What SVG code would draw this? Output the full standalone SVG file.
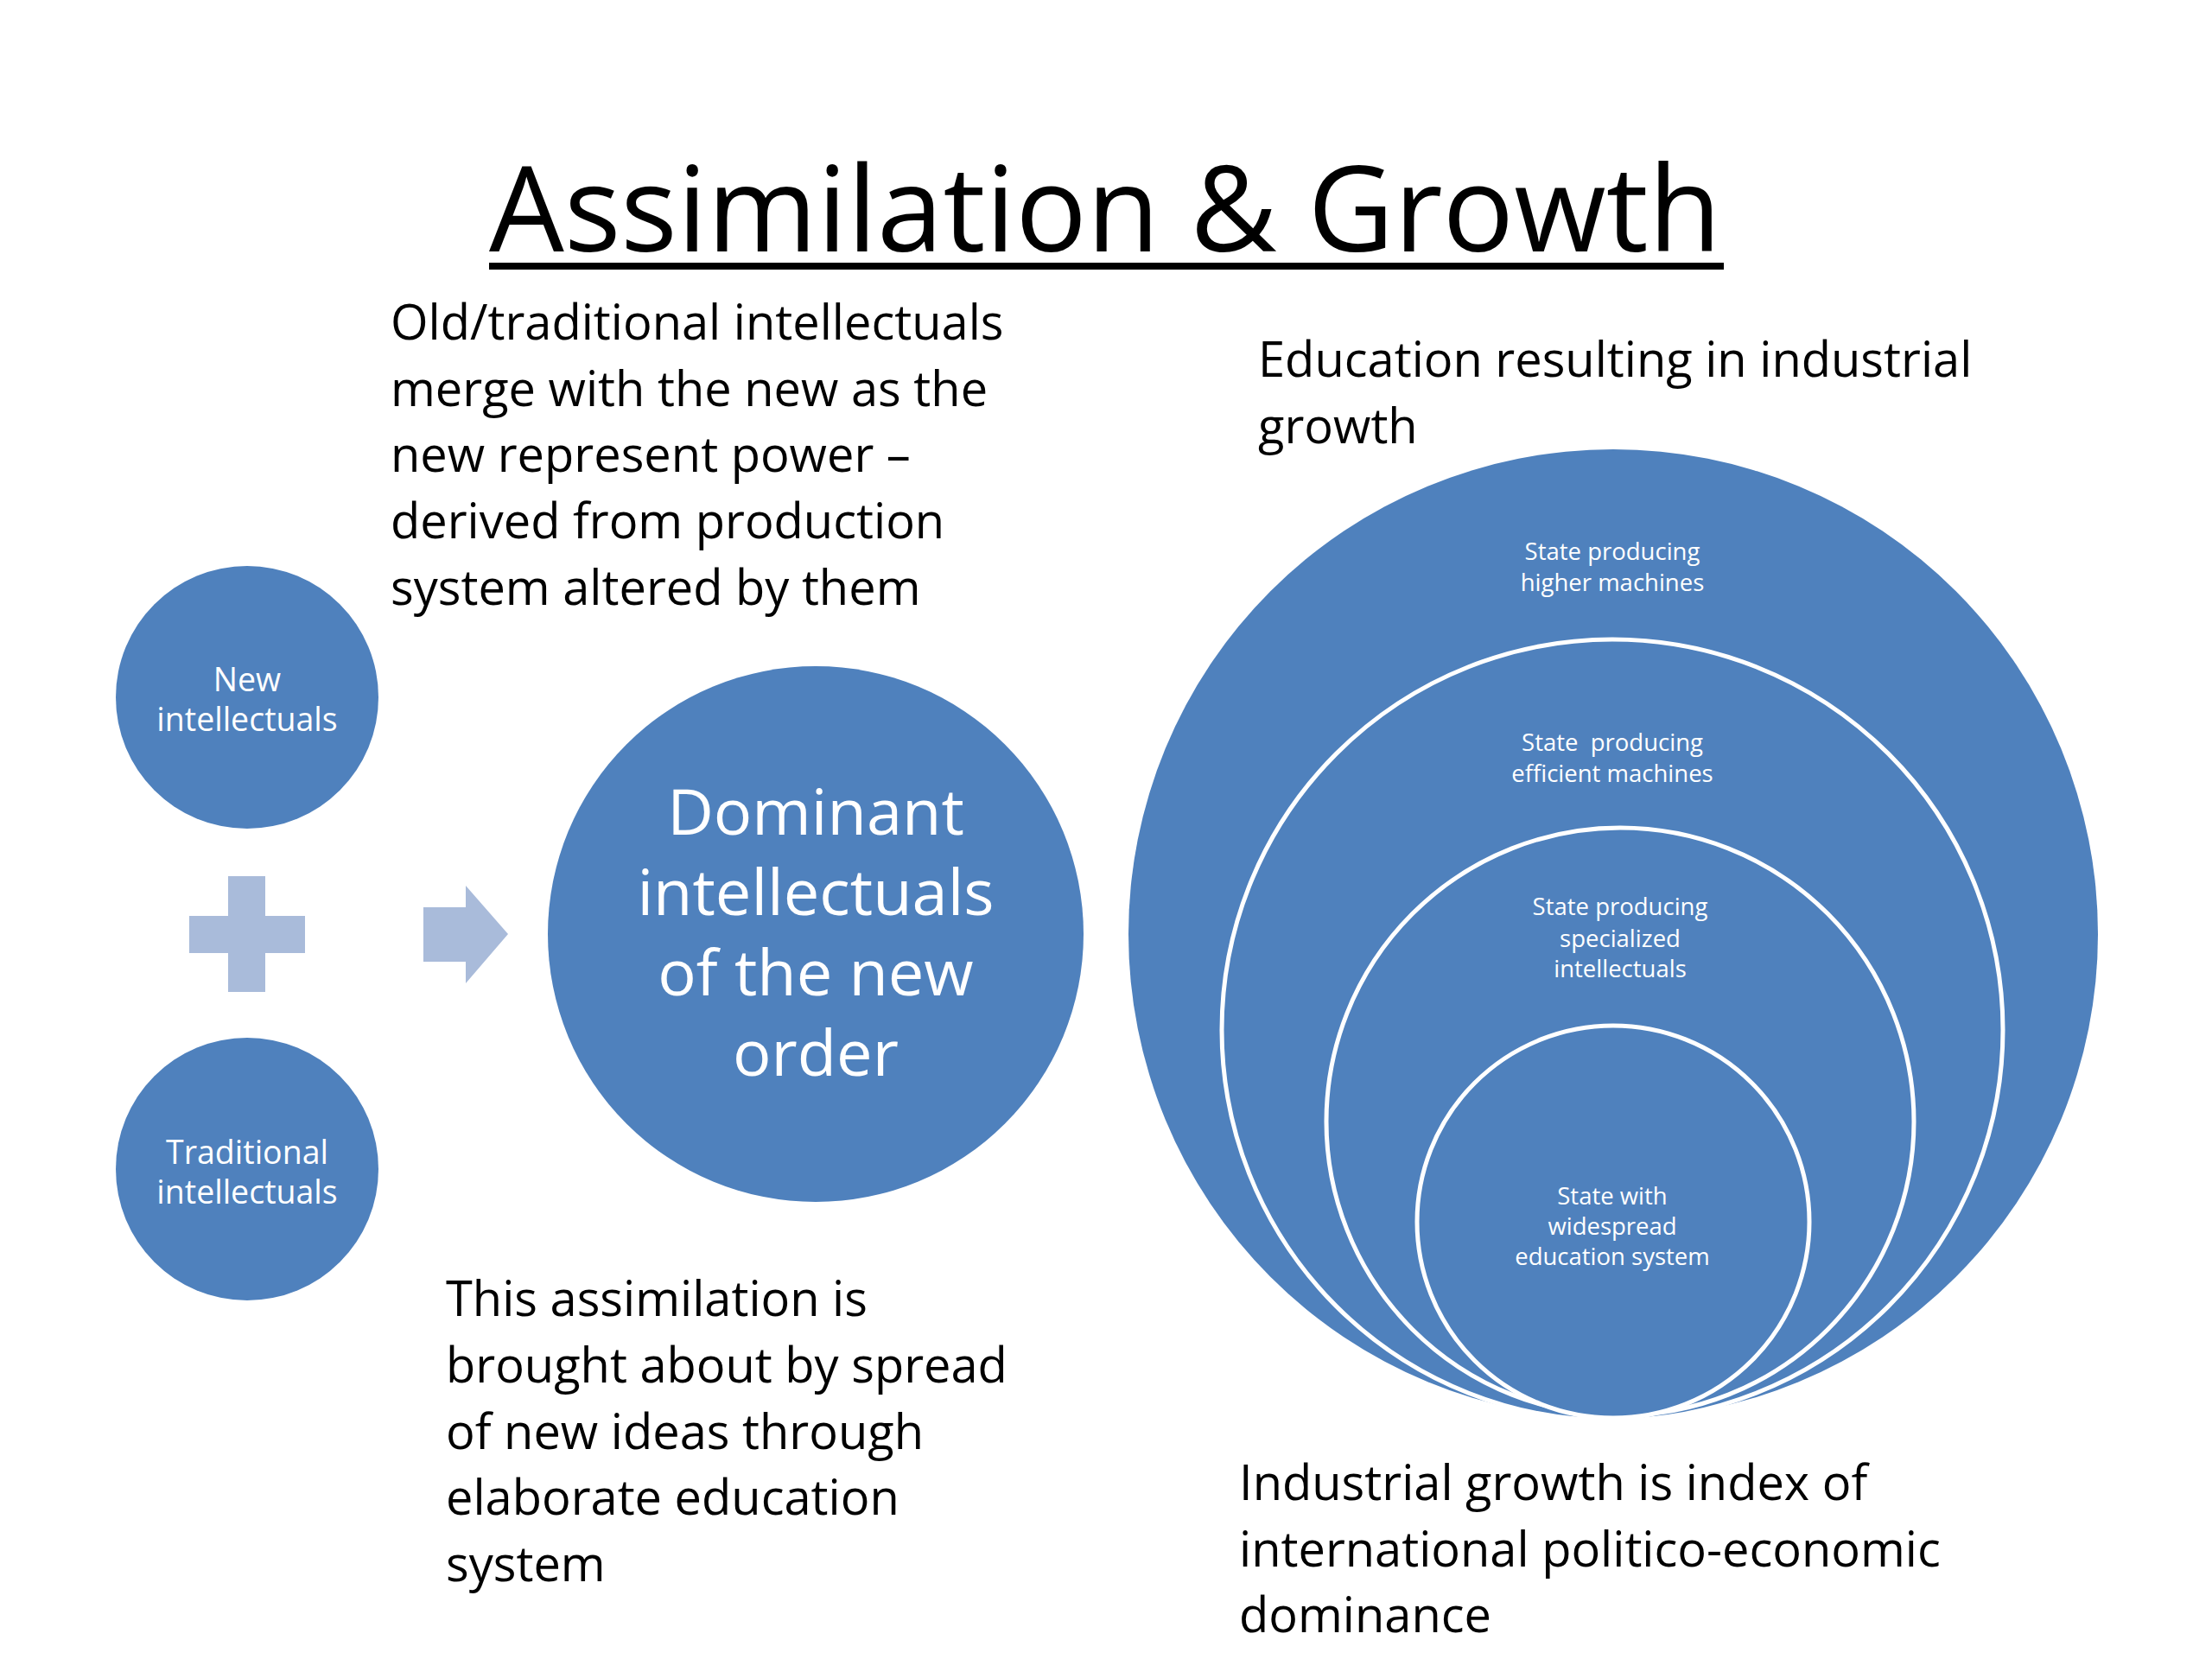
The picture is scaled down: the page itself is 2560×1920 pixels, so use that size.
<svg xmlns="http://www.w3.org/2000/svg" width="2560" height="1920" viewBox="0 0 2560 1920">
<style>
.body{font-family:"Open Sans","Noto Sans",sans-serif;font-size:56px;fill:#000}
.node{fill:#4f81bd}
.ring{fill:#4f81bd;stroke:#fff;stroke-width:5}
.wt{font-family:"Open Sans","Noto Sans",sans-serif;fill:#fff;text-anchor:middle}
.sm{font-size:37.5px}
.big{font-size:74px}
.tiny{font-size:27.5px}
.conn{fill:#a9bbda}
</style>
<rect width="2560" height="1920" fill="#fff"/>
<g id="title">
<text x="566" y="291" font-family="Open Sans, Noto Sans, sans-serif" font-size="137" textLength="1426" lengthAdjust="spacingAndGlyphs" fill="#000">Assimilation &amp; Growth</text>
<rect x="566" y="304" width="1429" height="8" fill="#000"/>
</g>
<g id="text-merge" class="body">
<text class="body" x="452" y="393">Old/traditional intellectuals</text>
<text class="body" x="452" y="470">merge with the new as the</text>
<text class="body" x="452" y="546">new represent power –</text>
<text class="body" x="452" y="623">derived from production</text>
<text class="body" x="452" y="700">system altered by them</text>
</g>
<g id="text-education">
<text class="body" x="1456" y="436">Education resulting in industrial</text>
<text class="body" x="1456" y="513">growth</text>
</g>
<g id="text-assimilation">
<text class="body" x="516" y="1523">This assimilation is</text>
<text class="body" x="516" y="1600">brought about by spread</text>
<text class="body" x="516" y="1677">of new ideas through</text>
<text class="body" x="516" y="1753">elaborate education</text>
<text class="body" x="516" y="1830">system</text>
</g>
<g id="text-industrial">
<text class="body" x="1434" y="1736">Industrial growth is index of</text>
<text class="body" x="1434" y="1813">international politico-economic</text>
<text class="body" x="1434" y="1889">dominance</text>
</g>
<g id="connectors">
<path class="conn" d="M264,1014 H307 V1060 H353 V1103 H307 V1148 H264 V1103 H219 V1060 H264 Z"/>
<path class="conn" d="M490,1050 H539 V1025 L588,1081 L539,1138 V1113 H490 Z"/>
</g>
<g id="node-new">
<circle class="node" cx="286" cy="807" r="152"/>
<text class="wt sm" x="286" y="800">New</text>
<text class="wt sm" x="286" y="846">intellectuals</text>
</g>
<g id="node-traditional">
<circle class="node" cx="286" cy="1353" r="152"/>
<text class="wt sm" x="286" y="1347">Traditional</text>
<text class="wt sm" x="286" y="1393">intellectuals</text>
</g>
<g id="node-dominant">
<circle class="node" cx="944" cy="1081" r="310"/>
<text class="wt big" x="944" y="966">Dominant</text>
<text class="wt big" x="944" y="1059">intellectuals</text>
<text class="wt big" x="944" y="1152">of the new</text>
<text class="wt big" x="944" y="1245">order</text>
</g>
<g id="node-higher">
<circle class="node" cx="1867" cy="1081" r="561"/>
<text class="wt tiny" x="1866" y="648">State producing</text>
<text class="wt tiny" x="1866" y="684">higher machines</text>
</g>
<g id="node-efficient">
<circle class="ring" cx="1866" cy="1192" r="452"/>
<text class="wt tiny" x="1866" y="869" xml:space="preserve">State  producing</text>
<text class="wt tiny" x="1866" y="905">efficient machines</text>
</g>
<g id="node-specialized">
<circle class="ring" cx="1875" cy="1298" r="340"/>
<text class="wt tiny" x="1875" y="1059">State producing</text>
<text class="wt tiny" x="1875" y="1096">specialized</text>
<text class="wt tiny" x="1875" y="1131">intellectuals</text>
</g>
<g id="node-education">
<circle class="ring" cx="1867" cy="1414" r="227"/>
<text class="wt tiny" x="1866" y="1394">State with</text>
<text class="wt tiny" x="1866" y="1429">widespread</text>
<text class="wt tiny" x="1866" y="1464">education system</text>
</g>
</svg>
